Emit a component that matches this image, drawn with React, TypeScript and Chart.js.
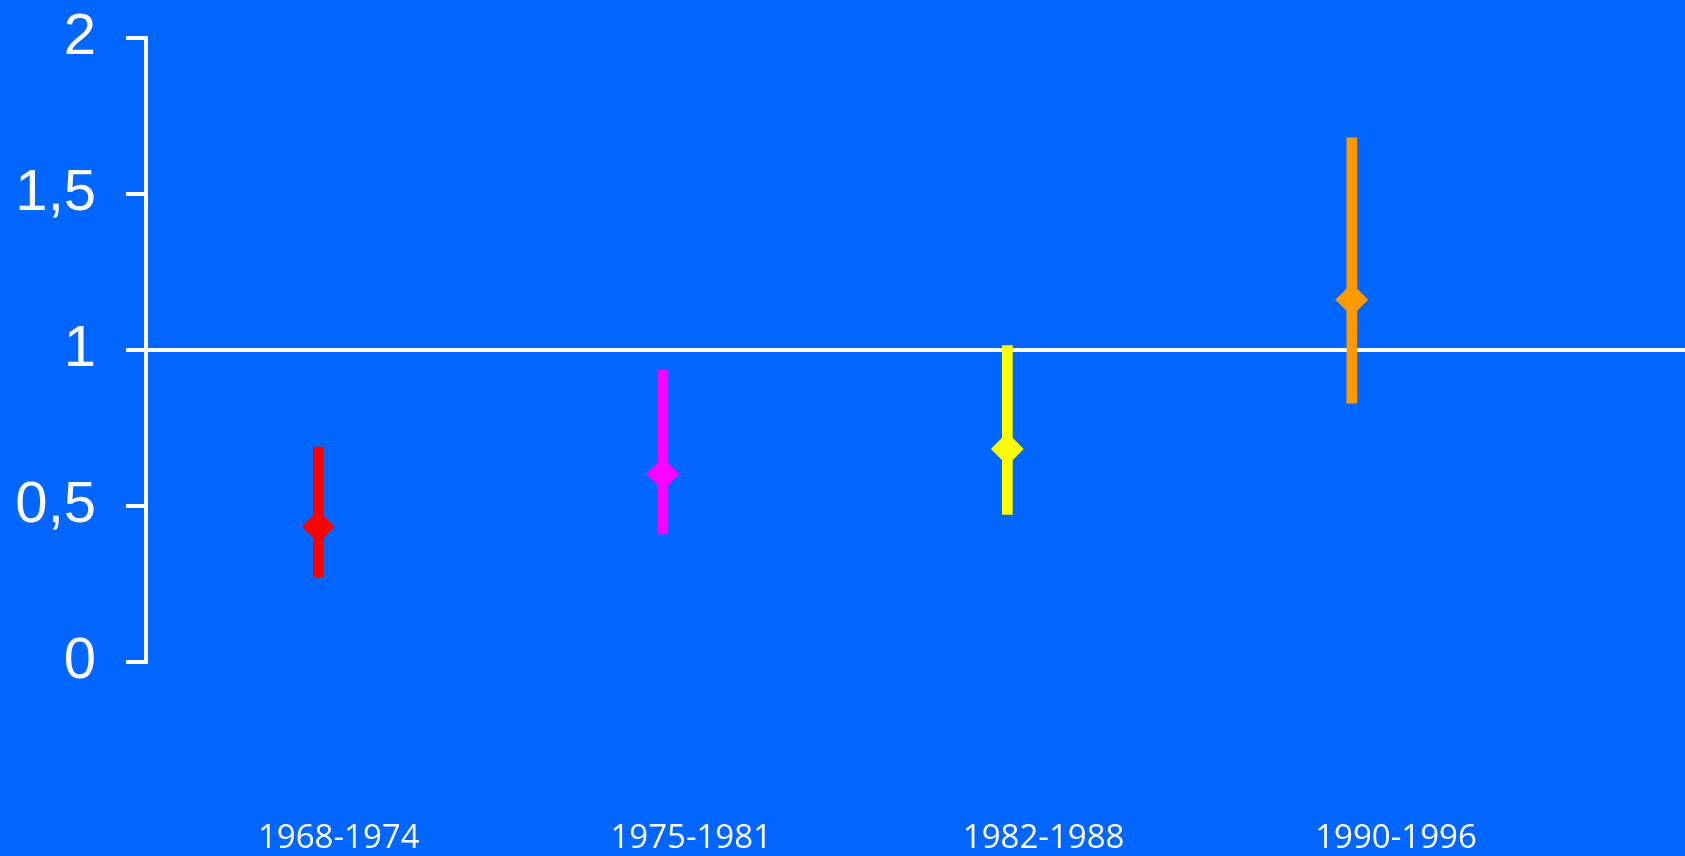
import React, { useEffect, useRef } from 'react';
import { Chart, registerables } from 'chart.js';

Chart.register(...registerables);

const categories = ['1968-1974', '1975-1981', '1982-1988', '1990-1996'];
const estimates = [0.433, 0.602, 0.682, 1.161];
const lowerBounds = [0.27, 0.41, 0.472, 0.829];
const upperBounds = [0.688, 0.936, 1.014, 1.68];
const seriesColors = ['#FF0000', '#FF00FF', '#FFFF00', '#FF9900'];
const yTickValues = [0, 0.5, 1, 1.5, 2];
const referenceValue = 1;

const BG = '#0066FF';

export default function App() {
  const canvasRef = useRef<HTMLCanvasElement | null>(null);

  useEffect(() => {
    document.body.style.margin = '0';
    document.body.style.background = BG;
    const canvas = canvasRef.current;
    if (!canvas) return;
    const chart = new Chart(canvas, {
      type: 'bar',
      data: {
        datasets: [
          {
            type: 'scatter',
            data: categories.map((_, i) => ({ x: i, y: estimates[i] })),
            pointStyle: 'rectRot',
            pointRadius: 15,
            pointHoverRadius: 15,
            backgroundColor: seriesColors,
            borderColor: seriesColors,
            borderWidth: 2,
            showLine: false,
          } as any,
          {
            type: 'bar',
            data: categories.map((_, i) => ({ x: i, y: [lowerBounds[i], upperBounds[i]] })),
            backgroundColor: seriesColors,
            borderWidth: 0,
            barThickness: 10,
          } as any,
        ],
      },
      options: {
        animation: false,
        responsive: false,
        events: [],
        layout: { autoPadding: false, padding: { top: 38, right: 0, left: 0, bottom: 0 } },
        plugins: { legend: { display: false }, tooltip: { enabled: false } },
        scales: {
          x: {
            type: 'linear',
            display: false,
            min: -0.5,
            max: 3.967,
            offset: false,
          } as any,
          xLabels: {
            type: 'linear',
            position: 'bottom',
            axis: 'x',
            min: -0.547,
            max: 3.82,
            offset: false,
            grid: { display: false, drawTicks: false },
            border: { display: false },
            afterBuildTicks: (s: any) => {
              s.ticks = categories.map((_, i) => ({ value: i }));
            },
            afterFit: (s: any) => {
              s.height = 194.3;
              s.paddingLeft = 0;
              s.paddingRight = 0;
            },
            ticks: {
              callback: (v: any) => categories[v] ?? '',
              color: '#FFFFFF',
              font: { family: '"Open Sans"', size: 33 },
              padding: 157,
              maxRotation: 0,
              autoSkip: false,
            },
          } as any,
          y: {
            type: 'linear',
            min: 0,
            max: 2,
            afterBuildTicks: (s: any) => {
              s.ticks = yTickValues.map((v) => ({ value: v }));
            },
            afterFit: (s: any) => {
              s.width = 146;
              s.paddingTop = 0;
              s.paddingBottom = 0;
            },
            ticks: {
              callback: (v: any) => String(v).replace('.', ','),
              color: '#FFFFFF',
              font: { family: '"Liberation Sans", Arial', size: 58 },
              padding: 30,
            },
            grid: {
              color: (c: any) => (c.tick && c.tick.value === referenceValue ? '#FFFFFF' : 'rgba(0,0,0,0)'),
              tickColor: '#FFFFFF',
              lineWidth: 4,
              tickLength: 20,
              drawTicks: true,
            },
            border: { display: true, color: '#FFFFFF', width: 4 },
          } as any,
        },
      },
    });
    return () => chart.destroy();
  }, []);

  return (
    <div style={{ position: 'absolute', left: 0, top: 0, width: 1685, height: 856, background: BG }}>
      <canvas ref={canvasRef} width={1685} height={856} style={{ display: 'block' }} />
    </div>
  );
}
